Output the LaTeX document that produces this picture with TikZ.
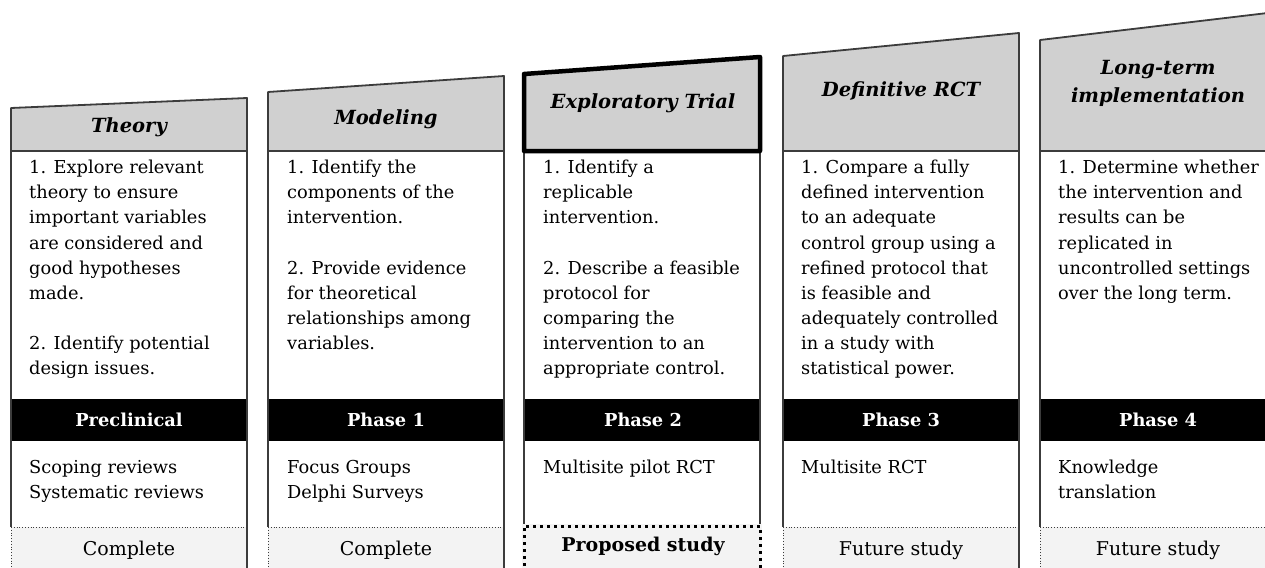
\documentclass[tikz,border=0pt]{standalone}
\usepackage{fontspec}
\setmainfont{DejaVu Serif}
\usetikzlibrary{positioning}
\tikzstyle{pixelGrid} = [x = 1pt, y = -1pt]
\definecolor{headerGray}{RGB}{208,208,208}
\definecolor{statusGray}{RGB}{243,243,243}
\definecolor{frameColor}{RGB}{60,60,60}
\tikzstyle{frameLine} = [color=frameColor, line width=1.8pt]
\tikzstyle{headerStyle} = [fill=headerGray, draw=frameColor, line width=1.8pt, line join=round]
\tikzstyle{headerText} = [font=\fontsize{19.5}{28}\selectfont\bfseries\itshape, align=center]
\tikzstyle{goalText} = [font=\fontsize{17.8}{25.1}\selectfont, align=left, anchor=north west, inner sep=0]
\tikzstyle{methodText} = [font=\fontsize{17.8}{25.1}\selectfont, align=left, anchor=north west, inner sep=0]
\tikzstyle{phaseText} = [font=\fontsize{17.8}{20}\selectfont\bfseries, text=white]
\tikzstyle{statusText} = [font=\fontsize{19}{20}\selectfont]
\tikzstyle{statusLine} = [color=frameColor, line width=0.8pt, dotted]
\tikzstyle{proposedLine} = [color=black, line width=3pt, dash pattern=on 3pt off 4pt]
\newcommand{\colWidth}{236}
\newcommand{\stageFrame}[3]{
  \filldraw [headerStyle] (#1, #2) -- (#1 + \colWidth, #3) -- (#1 + \colWidth, 151) -- (#1, 151) -- cycle;
  \fill [black] (#1, 399) rectangle + (\colWidth, 42);
  \fill [statusGray] (#1, 527) rectangle + (\colWidth, 50);
  \draw [frameLine] (#1, 151) -- (#1, 527);
  \draw [frameLine] (#1 + \colWidth, 151) -- (#1 + \colWidth, 580);
  \draw [statusLine] (#1, 527) -- + (\colWidth, 0);
  \draw [statusLine] (#1, 527) -- (#1, 580);
}
\newcommand{\proposedFrame}[3]{
  \draw [color=black, line width=4.5pt, line join=round] (#1, #2) -- (#1 + \colWidth, #3) -- (#1 + \colWidth, 151) -- (#1, 151) -- cycle;
  \fill [statusGray] (#1 - 2, 524) rectangle (#1 + \colWidth + 2, 580);
  \draw [proposedLine] (#1, 580) -- (#1, 526) -- (#1 + \colWidth, 526) -- (#1 + \colWidth, 580);
}

\begin{document}
\begin{tikzpicture}[pixelGrid]
  \useasboundingbox (0, 0) rectangle (1265, 567);
  \clip (0, 0) rectangle (1265, 567);
  \foreach \colLeft/\topLeft/\topRight in {11/108/98, 268/92/76, 524/74/57, 783/56/33, 1040/40/12} {
    \stageFrame{\colLeft}{\topLeft}{\topRight}
  }
  \proposedFrame{524}{74}{57}

  % headers
  \node [headerText] (theoryHead) at (129, 127) {Theory};
  \node [headerText] (modelingHead) at (386, 119) {Modeling};
  \node [headerText] (exploratoryHead) at (643, 103) {Exploratory Trial};
  \node [headerText] (definitiveHead) at (901, 91) {Definitive RCT};
  \node [headerText] (longTermHead) at (1158, 83) {Long-term\\implementation};

  % aims of each stage
  \node [goalText] (theoryGoals) at (29, 160) {1. Explore relevant\\theory to ensure\\important variables\\are considered and\\good hypotheses\\made.\\[25.1pt]2. Identify potential\\design issues.};
  \node [goalText] (modelingGoals) at (287, 160) {1. Identify the\\components of the\\intervention.\\[25.1pt]2. Provide evidence\\for theoretical\\relationships among\\variables.};
  \node [goalText] (exploratoryGoals) at (543, 160) {1. Identify a\\replicable\\intervention.\\[25.1pt]2. Describe a feasible\\protocol for\\comparing the\\intervention to an\\appropriate control.};
  \node [goalText] (definitiveGoals) at (801, 160) {1. Compare a fully\\defined intervention\\to an adequate\\control group using a\\refined protocol that\\is feasible and\\adequately controlled\\in a study with\\statistical power.};
  \node [goalText] (longTermGoals) at (1058, 160) {1. Determine whether\\the intervention and\\results can be\\replicated in\\uncontrolled settings\\over the long term.};

  % phases
  \node [phaseText] (theoryPhase) at (129, 420) {Preclinical};
  \node [phaseText] (modelingPhase) at (386, 420) {Phase 1};
  \node [phaseText] (exploratoryPhase) at (643, 420) {Phase 2};
  \node [phaseText] (definitivePhase) at (901, 420) {Phase 3};
  \node [phaseText] (longTermPhase) at (1158, 420) {Phase 4};

  % study designs
  \node [methodText] (theoryMethods) at (29, 460) {Scoping reviews\\Systematic reviews};
  \node [methodText] (modelingMethods) at (287, 460) {Focus Groups\\Delphi Surveys};
  \node [methodText] (exploratoryMethods) at (543, 460) {Multisite pilot RCT};
  \node [methodText] (definitiveMethods) at (801, 460) {Multisite RCT};
  \node [methodText] (longTermMethods) at (1058, 460) {Knowledge\\translation};

  % status
  \node [statusText] (theoryStatus) at (129, 550) {Complete};
  \node [statusText] (modelingStatus) at (386, 550) {Complete};
  \node [statusText, font=\fontsize{19}{20}\selectfont\bfseries] (exploratoryStatus) at (643, 546) {Proposed study};
  \node [statusText] (definitiveStatus) at (901, 550) {Future study};
  \node [statusText] (longTermStatus) at (1158, 550) {Future study};
\end{tikzpicture}
\end{document}
